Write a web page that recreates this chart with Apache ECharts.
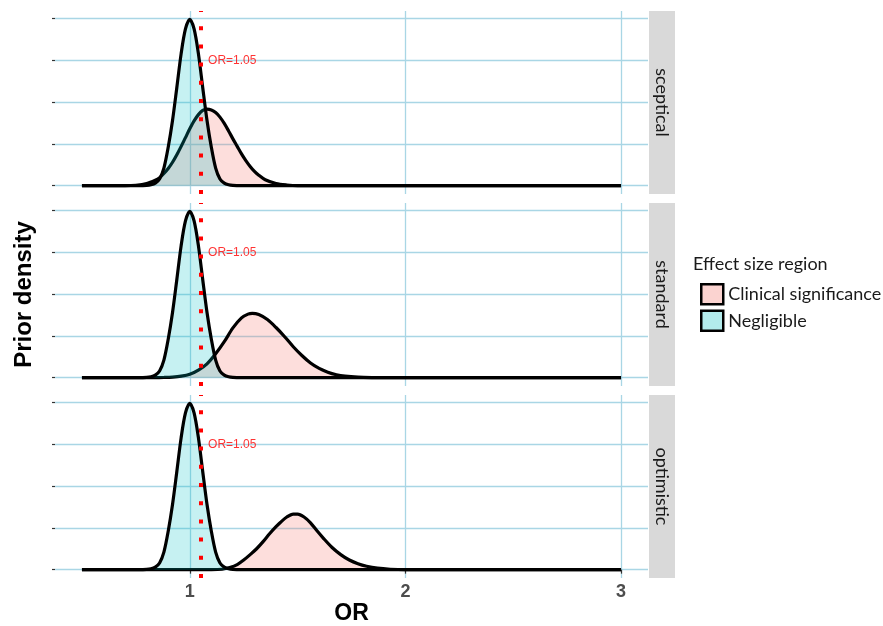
<!DOCTYPE html>
<html><head><meta charset="utf-8">
<script src="https://cdn.jsdelivr.net/npm/echarts@6/dist/echarts.min.js"></script>
<style>html,body{margin:0;padding:0;background:#fff}#c{width:883px;height:626px}</style>
</head><body><div id="c"></div>
<script>
const panels = ['sceptical', 'standard', 'optimistic'];
const seriesNames = ['Clinical significance', 'Negligible'];
const legendTitle = 'Effect size region';
const xTitle = 'OR';
const yTitle = 'Prior density';
const xTicks = [1, 2, 3];
const yTicks = [0, 1, 2, 3, 4];
const thresholdOR = 1.05;
const thresholdLabel = 'OR=1.05';
const thresholdLabelDensity = 3;

const negligibleOR = [0.5, 0.76, 0.80, 0.82, 0.84, 0.86, 0.88, 0.90, 0.92, 0.94, 0.96, 0.98, 1.00, 1.02, 1.04, 1.06, 1.08, 1.10, 1.12, 1.14, 1.16, 1.18, 1.20, 1.24, 3.0];
const negligibleDensity = [0, 0, 0.005, 0.02, 0.06, 0.16, 0.42, 0.92, 1.56, 2.35, 3.16, 3.75, 3.98, 3.75, 3.16, 2.35, 1.56, 0.92, 0.42, 0.16, 0.06, 0.02, 0.005, 0, 0];

const scepticalOR = [0.5, 0.70, 0.75, 0.80, 0.84, 0.86, 0.88, 0.90, 0.92, 0.94, 0.96, 0.98, 1.00, 1.02, 1.04, 1.06, 1.08, 1.10, 1.12, 1.14, 1.16, 1.18, 1.20, 1.22, 1.24, 1.26, 1.28, 1.30, 1.32, 1.35, 1.40, 1.45, 1.50, 3.0];
const scepticalDensity = [0, 0, 0.01, 0.05, 0.13, 0.19, 0.29, 0.41, 0.56, 0.74, 0.94, 1.15, 1.36, 1.55, 1.70, 1.80, 1.83, 1.81, 1.75, 1.64, 1.49, 1.31, 1.12, 0.94, 0.76, 0.60, 0.46, 0.34, 0.25, 0.14, 0.05, 0.015, 0, 0];

const standardOR = [0.5, 0.84, 0.88, 0.92, 0.96, 1.00, 1.04, 1.08, 1.12, 1.16, 1.20, 1.24, 1.27, 1.29, 1.32, 1.36, 1.40, 1.44, 1.48, 1.52, 1.56, 1.60, 1.64, 1.68, 1.72, 1.78, 1.85, 1.90, 3.0];
const standardDensity = [0, 0, 0.004, 0.013, 0.035, 0.08, 0.18, 0.33, 0.57, 0.86, 1.19, 1.43, 1.52, 1.54, 1.51, 1.39, 1.20, 0.98, 0.74, 0.53, 0.35, 0.22, 0.13, 0.07, 0.036, 0.012, 0.002, 0, 0];

const optimisticOR = [0.5, 1.10, 1.15, 1.185, 1.22, 1.25, 1.28, 1.31, 1.34, 1.37, 1.40, 1.42, 1.45, 1.48, 1.50, 1.53, 1.56, 1.59, 1.62, 1.66, 1.70, 1.74, 1.78, 1.82, 1.87, 1.93, 2.0, 3.0];
const optimisticDensity = [0, 0, 0.01, 0.05, 0.12, 0.23, 0.36, 0.50, 0.67, 0.86, 1.03, 1.13, 1.26, 1.33, 1.33, 1.26, 1.12, 0.93, 0.75, 0.53, 0.36, 0.23, 0.14, 0.08, 0.035, 0.01, 0, 0];

const clinicalOR = [scepticalOR, standardOR, optimisticOR];
const clinicalDensity = [scepticalDensity, standardDensity, optimisticDensity];

function pairs(xs, ys) { return xs.map((x, k) => [x, ys[k]]); }

const gridTop = [11, 203, 395];
const gridH = 183;
const gridLeft = 55;
const gridRight = 235;
const gridLineColor = '#A9D6E5';
const pinkFill = 'rgba(248,118,109,0.35)';
const cyanFill = 'rgba(0,191,196,0.32)';

const chart = echarts.init(document.getElementById('c'), null, { renderer: 'canvas' });

const grids = panels.map((p, i) => ({ left: gridLeft, right: gridRight, top: gridTop[i], height: gridH }));
const xAxes = panels.map((p, i) => ({
  type: 'value', gridIndex: i, min: 0.375, max: 3.125,
  axisLine: { show: false },
  axisTick: { show: i === 2, length: 4, customValues: xTicks, lineStyle: { color: '#333', width: 1.2 } },
  axisLabel: { show: i === 2, customValues: xTicks, fontSize: 18, fontWeight: 'bold', color: '#4D4D4D', margin: 5, fontFamily: 'Liberation Sans' },
  splitLine: { show: true, lineStyle: { color: gridLineColor, width: 1.3 } },
  name: i === 2 ? xTitle : '', nameLocation: 'middle', nameGap: 24,
  nameTextStyle: { fontSize: 23, fontWeight: 'bold', color: '#000', fontFamily: 'Liberation Sans' }
}));
const yAxes = panels.map((p, i) => ({
  type: 'value', gridIndex: i, min: -0.2, max: 4.18,
  axisLine: { show: false },
  axisTick: { show: true, length: 3, customValues: yTicks, lineStyle: { color: '#333', width: 1.2 } },
  axisLabel: { show: false, customValues: yTicks },
  splitLine: { show: true, lineStyle: { color: gridLineColor, width: 1.3 } },
  name: i === 1 ? yTitle : '', nameLocation: 'middle', nameGap: 19, nameRotate: 90,
  nameTextStyle: { fontSize: 24, fontWeight: 'bold', color: '#000', fontFamily: 'Liberation Sans' }
}));

const series = [];
panels.forEach((p, i) => {
  series.push({
    type: 'line', name: seriesNames[0], xAxisIndex: i, yAxisIndex: i,
    data: pairs(clinicalOR[i], clinicalDensity[i]), smooth: 0.3, symbol: 'none', silent: true,
    lineStyle: { color: '#000', width: 3.2 }, itemStyle: { color: '#FBD3D0' },
    areaStyle: { color: pinkFill }, z: 2
  });
  series.push({
    type: 'line', name: seriesNames[1], xAxisIndex: i, yAxisIndex: i,
    data: pairs(negligibleOR, negligibleDensity), smooth: 0.3, symbol: 'none', silent: true,
    lineStyle: { color: '#000', width: 3.2 }, itemStyle: { color: '#B3EBEC' },
    areaStyle: { color: cyanFill }, z: 3
  });
  series.push({
    type: 'scatter', xAxisIndex: i, yAxisIndex: i, silent: true,
    data: [[thresholdOR, thresholdLabelDensity]], symbolSize: 1, itemStyle: { color: 'rgba(0,0,0,0)' },
    label: { show: true, position: 'right', distance: 7, formatter: thresholdLabel, color: '#FF0000', fontSize: 12, fontFamily: 'Liberation Sans' },
    markLine: { silent: true, symbol: ['none', 'none'], label: { show: false },
      lineStyle: { color: '#FF0000', width: 4, type: [4, 14.2] }, data: [{ xAxis: thresholdOR }] },
    z: 5
  });
});

const graphics = [];
panels.forEach((p, i) => {
  graphics.push({ type: 'rect', left: 649, top: gridTop[i], silent: true, shape: { width: 26, height: gridH }, style: { fill: '#D9D9D9' } });
  graphics.push({ type: 'text', x: 662, y: gridTop[i] + gridH / 2, rotation: -Math.PI / 2, silent: true,
    style: { text: p, fill: '#1A1A1A', fontSize: 18, fontFamily: 'Lato', align: 'center', verticalAlign: 'middle' } });
});

chart.setOption({
  animation: false,
  backgroundColor: '#fff',
  title: { text: legendTitle, left: 693, top: 255, padding: 0, textStyle: { fontSize: 18, fontWeight: 'normal', fontFamily: 'Lato', color: '#1A1A1A' } },
  legend: {
    orient: 'vertical', left: 700, top: 283, padding: 0, itemWidth: 22, itemHeight: 20, itemGap: 4, icon: 'rect', selectedMode: false,
    data: [
      { name: seriesNames[0], itemStyle: { color: '#FBD3D0', borderColor: '#000', borderWidth: 2.5 } },
      { name: seriesNames[1], itemStyle: { color: '#B3EBEC', borderColor: '#000', borderWidth: 2.5 } }
    ],
    textStyle: { fontSize: 18, fontFamily: 'Lato', color: '#1A1A1A' }
  },
  grid: grids, xAxis: xAxes, yAxis: yAxes, series: series, graphic: graphics
});
</script></body></html>
